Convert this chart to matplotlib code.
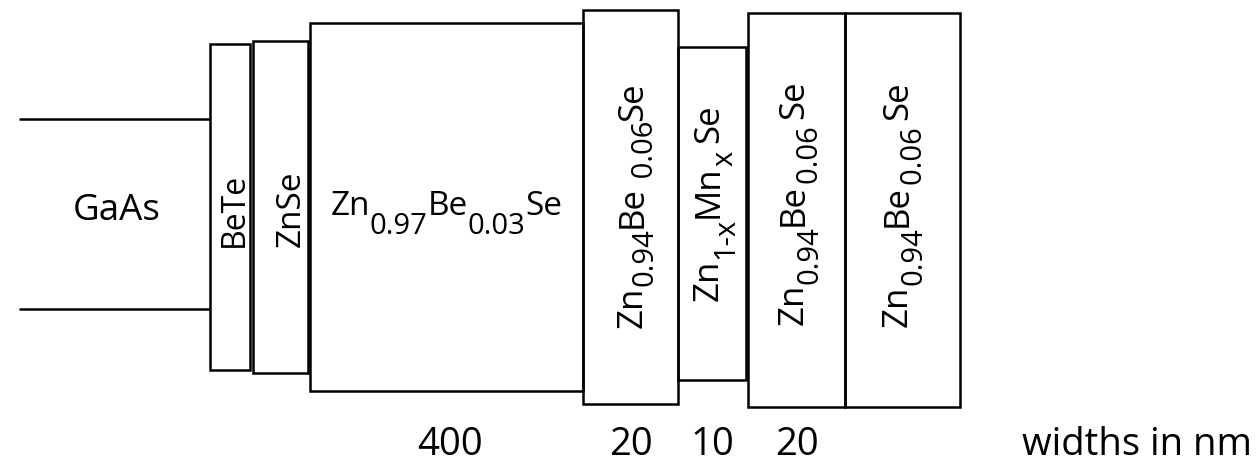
import matplotlib
matplotlib.use("Agg")
import matplotlib.pyplot as plt
from matplotlib.patches import Rectangle

plt.rcParams['font.family'] = ['Open Sans', 'DejaVu Sans']

# Layer boxes (diagram coordinates, pixel-like units)
layer_left = [210, 253, 310, 583, 678, 748, 845]
layer_right = [250, 308, 583, 678, 746, 845, 960]
layer_top = [44, 41, 23, 10, 47, 13, 13]
layer_bottom = [370, 373, 391, 404, 380, 407, 407]
# label pieces: (text, is_subscript)
layer_labels = [
    [('BeTe', 0)],
    [('ZnSe', 0)],
    [('Zn', 0), ('0.97', 1), ('Be', 0), ('0.03', 1), ('Se', 0)],
    [('Zn', 0), ('0.94', 1), ('Be', 0), (' 0.06', 1), ('Se', 0)],
    [('Zn', 0), ('1-x', 1), ('Mn', 0), ('x ', 1), ('Se', 0)],
    [('Zn', 0), ('0.94', 1), ('Be', 0), ('0.06 ', 1), ('Se', 0)],
    [('Zn', 0), ('0.94', 1), ('Be', 0), ('0.06 ', 1), ('Se', 0)],
]
layer_rot = [90, 90, 0, 90, 90, 90, 90]
label_base = [243, 300, 215, 642, 718, 803, 907]       # baseline position
label_center = [210, 208.5, 446.5, 205, 202.5, 202.5, 204]  # centre along text
label_main = [23, 24, 24, 25, 25, 25, 25]
label_sub = [21, 21, 21, 21, 21, 21, 21]
label_drop = [0, 0, 19, 11, 15, 15, 15]

# Substrate
substrate_label = 'GaAs'
substrate_x = [19, 210]
substrate_y = [119, 309]

width_labels = ['400', '20', '10', '20', 'widths in nm']
width_x = [450, 631, 712, 797, 1137]

fig = plt.figure(figsize=(12.59, 4.63), dpi=100)
ax = fig.add_axes([0, 0, 1, 1])
ax.set_xlim(0, 1259)
ax.set_ylim(463, 0)
ax.axis('off')
renderer = fig.canvas.get_renderer()


def text_width(s, size):
    t = ax.text(0, 0, s, fontsize=size)
    w = t.get_window_extent(renderer).width
    t.remove()
    return w


def draw_label(pieces, rot, base, center, main, sub, drop):
    widths = [text_width(s, sub if k else main) for s, k in pieces]
    total = sum(widths)
    pos = center - total / 2 if rot == 0 else center + total / 2
    for (s, k), w in zip(pieces, widths):
        size = sub if k else main
        off = drop if k else 0
        if rot == 0:
            ax.text(pos, base + off, s, fontsize=size, ha='left', va='baseline')
            pos += w
        else:
            ax.text(base + off, pos, s, fontsize=size, ha='left', va='baseline',
                    rotation=90, rotation_mode='anchor')
            pos -= w


lw = 1.8
for y in substrate_y:
    ax.plot(substrate_x, [y, y], color='black', lw=lw, solid_capstyle='butt')
ax.text(116.5, 220, substrate_label, ha='center', va='baseline', fontsize=26.5)

for i, pieces in enumerate(layer_labels):
    l, r = layer_left[i], layer_right[i]
    t, b = layer_top[i], layer_bottom[i]
    ax.add_patch(Rectangle((l, t), r - l, b - t, fill=False, ec='black', lw=lw,
                           joinstyle='miter'))
    draw_label(pieces, layer_rot[i], label_base[i], label_center[i],
               label_main[i], label_sub[i], label_drop[i])

for s, x in zip(width_labels, width_x):
    ax.text(x, 455, s, ha='center', va='baseline', fontsize=27.5)

fig.savefig('out.png', dpi=100)
